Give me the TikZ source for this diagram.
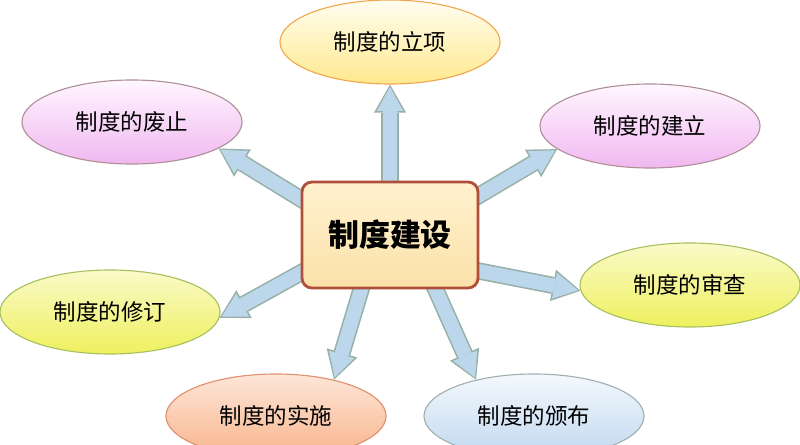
\documentclass[tikz,border=0pt]{standalone}
\usepackage{fontspec}
\usepackage{tikz}
\usetikzlibrary{shapes.geometric, arrows.meta, backgrounds}
\newfontfamily\cjk{Noto Sans CJK SC}
\definecolor{hubtop}{HTML}{FFF1CF}
\definecolor{hubbottom}{HTML}{FBE1A9}
\definecolor{hubedge}{HTML}{B0503A}
\definecolor{arrowfill}{HTML}{BCD7EC}
\definecolor{arrowedge}{HTML}{97B1A8}
\definecolor{yellowtop}{HTML}{FFFDF0}
\definecolor{yellowbottom}{HTML}{FFE98E}
\definecolor{yellowedge}{HTML}{F0A850}
\definecolor{pinktop}{HTML}{FFF6FF}
\definecolor{pinkbottom}{HTML}{F0B8F0}
\definecolor{pinkedge}{HTML}{B09098}
\definecolor{limetop}{HTML}{FAFAC8}
\definecolor{limebottom}{HTML}{EEF05E}
\definecolor{limeedge}{HTML}{A8C060}
\definecolor{orangetop}{HTML}{FDE6D8}
\definecolor{orangebottom}{HTML}{F8B48C}
\definecolor{orangeedge}{HTML}{E0906E}
\definecolor{bluetop}{HTML}{F4F8FD}
\definecolor{bluebottom}{HTML}{C0D8F0}
\definecolor{blueedge}{HTML}{A0B0B0}

\begin{document}
\begin{tikzpicture}[x=0.025cm, y=-0.025cm,
  phase/.style={ellipse, minimum width=5.5cm, minimum height=2.1cm,
    inner sep=0pt, line width=0.8pt, font=\cjk\fontsize{16}{18}\selectfont},
  hubbox/.style={rectangle, rounded corners=0.25cm, draw=hubedge,
    top color=hubtop, bottom color=hubbottom, line width=2pt,
    minimum width=4.4cm, minimum height=2.65cm,
    font=\cjk\bfseries\fontsize{22}{24}\selectfont},
  blockarrow/.style={draw=arrowfill, line width=0.35cm,
    -{Triangle[length=0.6cm, width=0.66cm, line width=0pt]},
    shorten >=0.06cm, shorten <=-0.2cm,
    preaction={draw=arrowedge, line width=0.43cm,
      -{Triangle[length=0.7cm, width=0.8cm, line width=0pt]},
      shorten >=0cm}}]
\useasboundingbox (0,0) rectangle (800,445);
\clip (0,0) rectangle (800,445);

% outer ring of stages
\begin{scope}[on background layer]
\node[phase, draw=yellowedge, top color=yellowtop, bottom color=yellowbottom]
  (propose) at (390,42) {制度的立项};
\node[phase, draw=pinkedge, top color=pinktop, bottom color=pinkbottom]
  (repeal) at (132,122) {制度的废止};
\node[phase, draw=pinkedge, top color=pinktop, bottom color=pinkbottom]
  (establish) at (650,126) {制度的建立};
\node[phase, draw=limeedge, top color=limetop, bottom color=limebottom]
  (revise) at (110,312) {制度的修订};
\node[phase, draw=limeedge, top color=limetop, bottom color=limebottom]
  (review) at (690,285) {制度的审查};
\node[phase, draw=orangeedge, top color=orangetop, bottom color=orangebottom]
  (enforce) at (276,416) {制度的实施};
\node[phase, draw=blueedge, top color=bluetop, bottom color=bluebottom]
  (publish) at (534,416) {制度的颁布};
\end{scope}

\node[hubbox] (hub) at (390,235) {制度建设};

% arrows out of the hub
\begin{scope}[on background layer]
\draw[blockarrow] (hub.north) -- (propose.south);
\draw[blockarrow] (hub.158) -- (repeal.-17);
\draw[blockarrow] (hub.24) -- (establish.194);
\draw[blockarrow] (hub.-22) -- (review.183);
\draw[blockarrow] (hub.-50) -- (publish.148);
\draw[blockarrow] (hub.-118) -- (enforce.32);
\draw[blockarrow] (hub.-157) -- (revise.-3);
\end{scope}
\end{tikzpicture}
\end{document}
